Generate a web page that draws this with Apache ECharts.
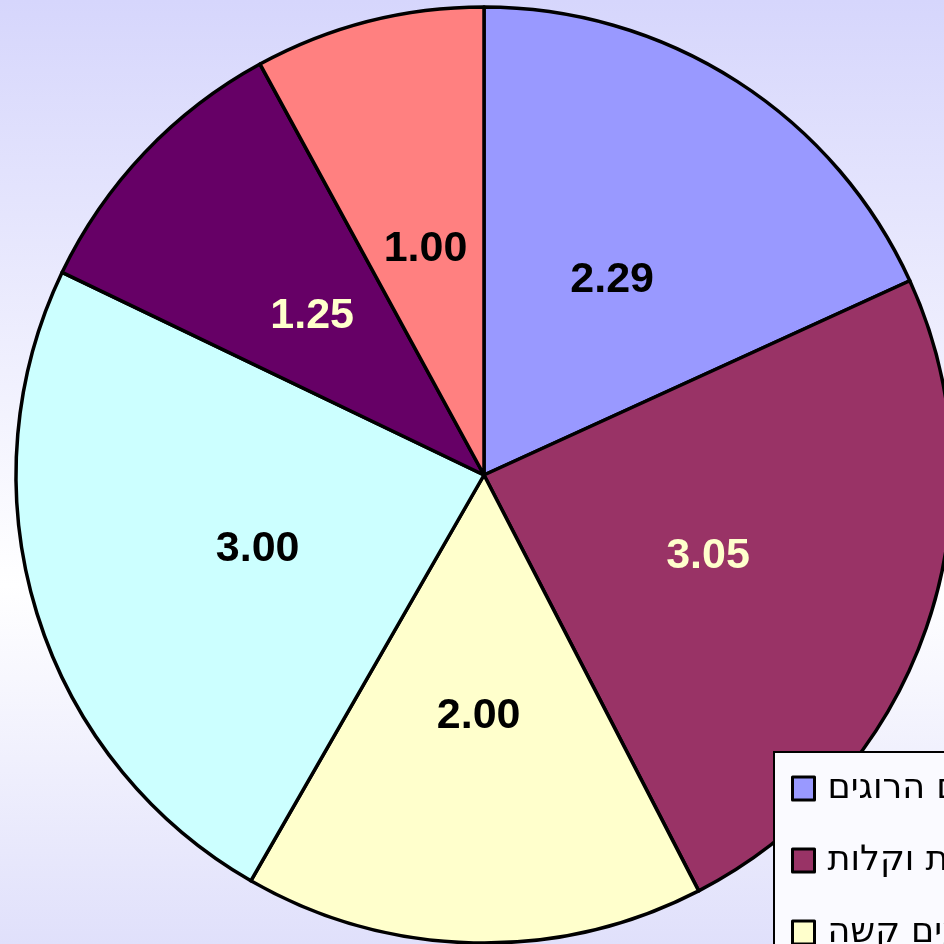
<!DOCTYPE html>
<html>
<head>
<meta charset="utf-8">
<script src="https://cdn.jsdelivr.net/npm/echarts@6/dist/echarts.min.js"></script>
<style>
  html, body { margin: 0; padding: 0; }
  #chart { width: 944px; height: 944px; }
</style>
</head>
<body>
<div id="chart"></div>
<script>
// categories (legend, partly off-page in the original)
const categories = [
  "תאונות עם הרוגים",
  "תאונות עם פציעות בינוניות וקלות",
  "תאונות עם פצועים קשה",
  "תאונות ללא נפגעים",
  "נזק לרכוש",
  "אחר",
];
const values = [2.29, 3.05, 2.0, 3.0, 1.25, 1.0];
const sliceColors = ["#9999ff", "#993366", "#ffffcc", "#ccffff", "#660066", "#ff8080"];
const labelColors = ["#000", "#ffffcc", "#000", "#000", "#ffffcc", "#000"];

const chart = echarts.init(document.getElementById("chart"));

const option = {
  animation: false,
  backgroundColor: new echarts.graphic.LinearGradient(0, 0, 0, 1, [
    { offset: 0, color: "#d6d6fc" },
    { offset: 0.62, color: "#ffffff" },
    { offset: 1, color: "#e0e0fb" },
  ]),
  legend: {
    type: "plain",
    orient: "vertical",
    left: 774,
    top: 752,
    height: 600,
    padding: [17, 20, 10, 17],
    itemWidth: 22,
    itemHeight: 23,
    itemGap: 33,
    backgroundColor: "#fafaff",
    borderColor: "#000",
    borderWidth: 2,
    borderRadius: 0,
    icon: "rect",
    itemStyle: { borderColor: "#000", borderWidth: 3 },
    textStyle: {
      fontFamily: "DejaVu Sans",
      fontSize: 35,
      lineHeight: 35,
      color: "#000",
      padding: [4, 0, 0, 8],
    },
    data: categories,
  },
  series: [
    {
      type: "pie",
      center: [484, 475],
      radius: 468,
      startAngle: 90,
      clockwise: true,
      avoidLabelOverlap: false,
      silent: true,
      itemStyle: { borderColor: "#000", borderWidth: 3.5 },
      label: {
        show: true,
        position: "inside",
        fontFamily: "Liberation Sans",
        fontWeight: "bold",
        fontSize: 43,
        offset: [0, 4],
        formatter: (p) => p.value.toFixed(2),
      },
      labelLine: { show: false },
      data: categories.map((name, i) => ({
        name: name,
        value: values[i],
        itemStyle: { color: sliceColors[i] },
        label: { color: labelColors[i] },
      })),
    },
  ],
};

chart.setOption(option);
</script>
</body>
</html>
